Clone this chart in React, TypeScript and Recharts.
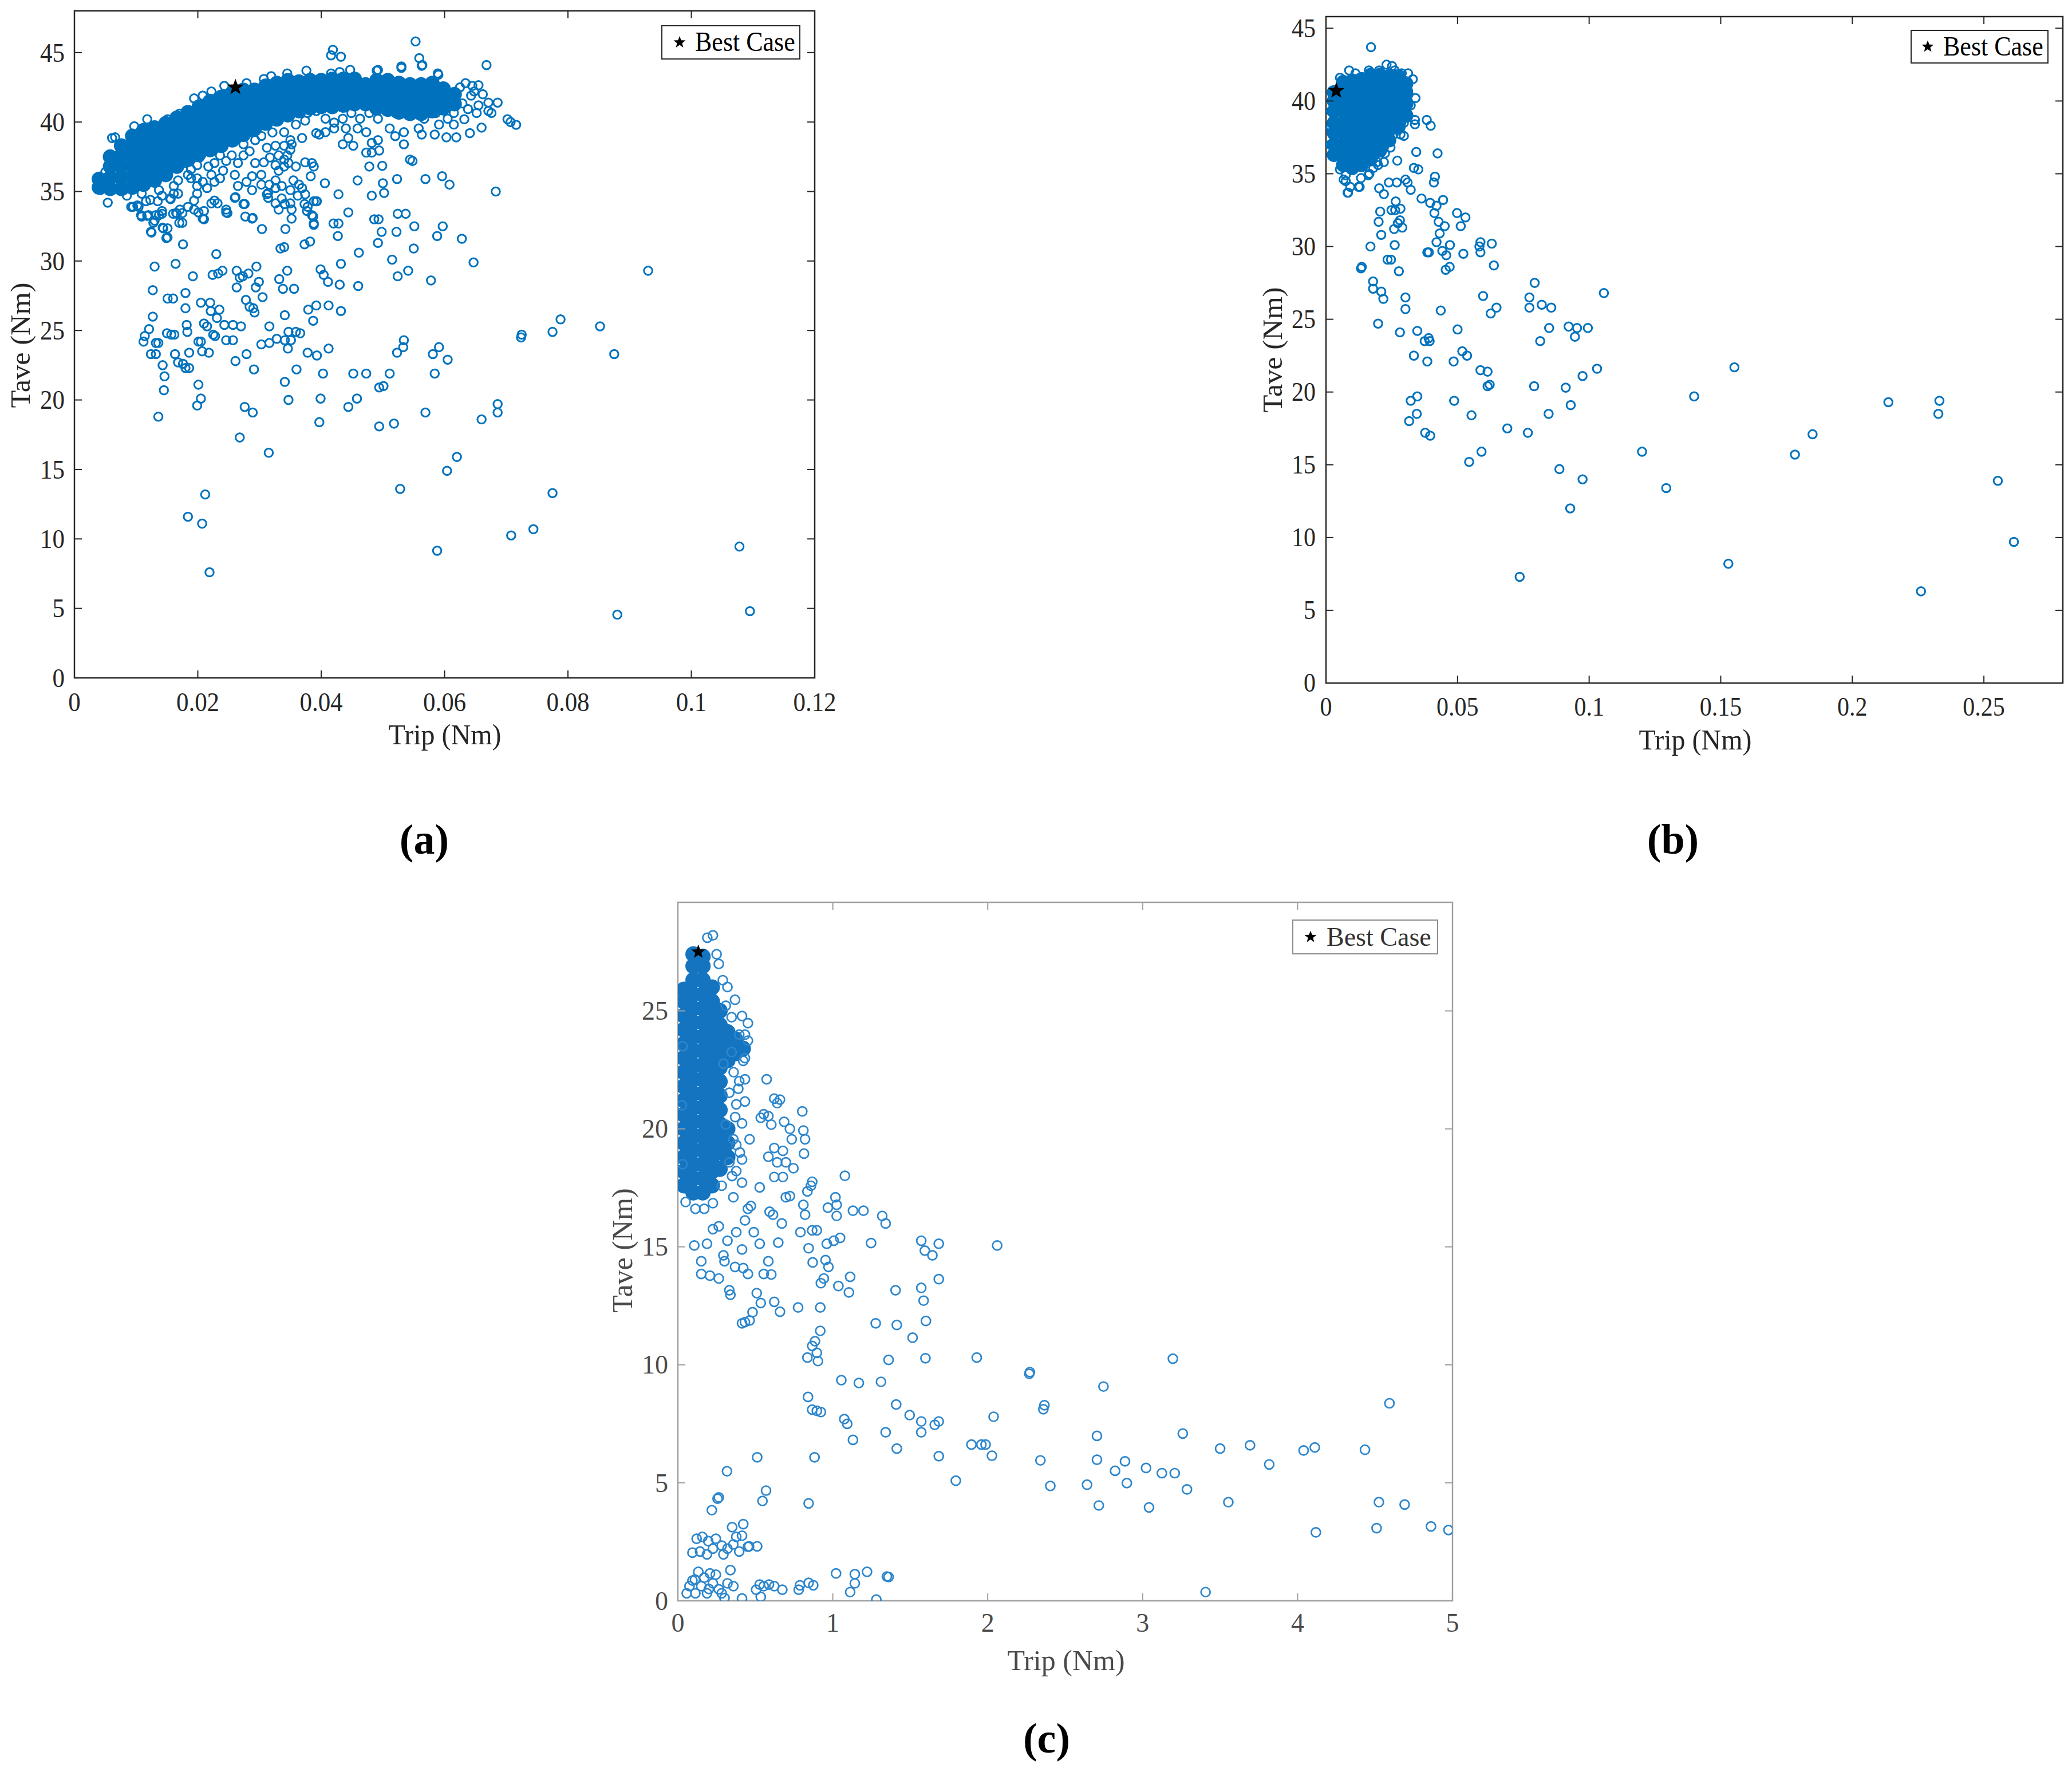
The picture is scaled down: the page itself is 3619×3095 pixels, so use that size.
import React from 'react';
import { ScatterChart, Scatter, XAxis, YAxis, ReferenceArea } from 'recharts';

type P = [number, number];

const FONT = '"Liberation Serif", "Times New Roman", serif';

// ---------- panel (a) ----------
const ticksAX = [0, 0.02, 0.04, 0.06, 0.08, 0.1, 0.12];
const ticksAY = [0, 5, 10, 15, 20, 25, 30, 35, 40, 45];
const bestA: P[] = [[0.0261, 42.5]];

const ringsA: P[] = [
  [0.093, 29.3], [0.0775, 13.3], [0.088, 4.55], [0.1095, 4.8], [0.1078, 9.45], [0.0744, 10.7], [0.0708, 10.25],
  [0.0588, 9.15], [0.0528, 13.6], [0.0604, 14.9], [0.062, 15.9], [0.0852, 25.3], [0.0875, 23.3], [0.0788, 25.8],
  [0.0775, 24.9], [0.0724, 24.5], [0.0725, 24.7], [0.0686, 19.7], [0.0686, 19.1], [0.066, 18.6], [0.0647, 29.9],
  [0.0628, 31.6], [0.0588, 31.8], [0.0597, 32.5], [0.0596, 36.1], [0.0608, 35.5], [0.0569, 35.9], [0.0683, 35.0],
  [0.0578, 28.6], [0.055, 30.9], [0.0551, 32.5], [0.0537, 33.4], [0.0524, 33.4], [0.0522, 32.1], [0.0515, 30.1],
  [0.0524, 28.9], [0.0541, 29.3], [0.0498, 32.1], [0.0493, 33.0], [0.0486, 33.0], [0.0492, 31.3], [0.05, 35.6],
  [0.0502, 34.9], [0.0523, 35.9], [0.0482, 34.7], [0.0459, 35.8], [0.0444, 33.5], [0.0461, 30.6], [0.046, 28.2],
  [0.0428, 32.7], [0.042, 32.7], [0.0427, 31.8], [0.0432, 29.8], [0.043, 28.3], [0.0432, 26.4], [0.0412, 26.8],
  [0.0411, 28.5], [0.0404, 29.0], [0.0399, 29.4], [0.0406, 35.6], [0.0428, 34.8], [0.0393, 34.3], [0.0388, 32.7],
  [0.0387, 33.2], [0.0373, 31.2], [0.0382, 31.4], [0.0373, 34.1], [0.0377, 33.6], [0.0392, 26.8], [0.0379, 26.5],
  [0.0387, 25.7], [0.0378, 23.4], [0.0393, 23.2], [0.0412, 23.7], [0.0403, 21.9], [0.0399, 20.1], [0.0397, 18.4],
  [0.0444, 19.5], [0.0458, 20.1], [0.0452, 21.9], [0.0473, 21.9], [0.0494, 20.9], [0.0501, 21.0], [0.0511, 21.9],
  [0.0494, 18.1], [0.0518, 18.3], [0.0523, 23.4], [0.0533, 23.8], [0.0534, 24.3], [0.0581, 23.3], [0.0591, 23.8],
  [0.0605, 22.9], [0.0584, 21.9], [0.0569, 19.1], [0.036, 22.2], [0.0366, 24.8], [0.0359, 24.9], [0.0351, 24.3],
  [0.0347, 24.9], [0.0346, 23.7], [0.0341, 24.3], [0.0347, 20.0], [0.0341, 21.3], [0.0341, 26.1], [0.0356, 28.0],
  [0.0338, 28.0], [0.0332, 28.7], [0.0345, 29.3], [0.034, 31.0], [0.0334, 30.9], [0.0342, 32.3], [0.0316, 25.3],
  [0.0328, 24.4], [0.0316, 24.1], [0.0303, 24.0], [0.0315, 16.2], [0.0291, 22.2], [0.0289, 19.1], [0.0276, 19.5],
  [0.0268, 17.3], [0.0279, 23.3], [0.0261, 22.8], [0.027, 25.3], [0.0257, 25.4], [0.0257, 24.3], [0.0246, 24.3],
  [0.0243, 25.4], [0.0235, 26.5], [0.0231, 25.9], [0.0228, 24.6], [0.0225, 24.7], [0.0218, 23.4], [0.022, 27.0],
  [0.0221, 26.4], [0.0215, 25.3], [0.021, 25.5], [0.0205, 27.0], [0.0205, 24.2], [0.0201, 24.2], [0.0207, 23.5],
  [0.0205, 20.1], [0.0201, 21.1], [0.0199, 19.6], [0.0186, 22.3], [0.018, 22.3], [0.0186, 23.4], [0.0183, 24.9],
  [0.0182, 25.4], [0.018, 26.6], [0.018, 27.7], [0.0192, 28.9], [0.016, 27.3], [0.0151, 27.3], [0.0164, 29.8],
  [0.013, 29.6], [0.0127, 27.9], [0.0127, 26.0], [0.0121, 25.1], [0.0114, 24.6], [0.0112, 24.2], [0.0132, 24.1],
  [0.0136, 24.1], [0.015, 24.8], [0.0157, 24.7], [0.0162, 24.7], [0.0124, 23.3], [0.0132, 23.3], [0.0163, 23.3],
  [0.0168, 22.7], [0.0176, 22.6], [0.0143, 22.5], [0.0146, 21.7], [0.0145, 20.7], [0.0136, 18.8], [0.0184, 11.6],
  [0.0212, 13.2], [0.0207, 11.1], [0.0219, 7.6], [0.023, 30.5], [0.0224, 29.0], [0.0233, 29.1], [0.024, 29.3],
  [0.0263, 29.3], [0.0268, 28.8], [0.0273, 28.9], [0.0282, 29.1], [0.0295, 29.6], [0.0294, 28.1], [0.0299, 28.5],
  [0.0305, 27.4], [0.0278, 27.2], [0.0284, 26.7], [0.029, 26.6], [0.0292, 26.3], [0.0263, 28.1], [0.0176, 31.2],
  [0.0151, 31.7], [0.0124, 32.1], [0.0143, 32.4], [0.013, 32.9], [0.0194, 33.7], [0.0201, 33.5], [0.021, 33.0],
  [0.0246, 33.5], [0.0277, 33.2], [0.0289, 33.1], [0.0304, 32.3], [0.0276, 34.1], [0.0261, 34.6], [0.0314, 34.9],
  [0.0316, 35.5], [0.0341, 34.1], [0.0054, 34.2], [0.0104, 33.9], [0.0092, 33.9], [0.0108, 33.3], [0.012, 33.3],
  [0.0137, 33.3], [0.0142, 33.4], [0.016, 33.4], [0.0171, 33.7], [0.0166, 33.4], [0.0155, 34.5], [0.0135, 34.3],
  [0.0419, 45.2], [0.0416, 44.8], [0.0432, 44.7], [0.0553, 45.8], [0.0559, 44.6], [0.0564, 44.1], [0.0668, 44.1],
  [0.049, 43.7], [0.053, 43.9], [0.059, 43.4],
  // band
  [0.0061, 38.85], [0.0066, 38.9], [0.0097, 39.7], [0.0118, 40.2], [0.0151, 40.2], [0.017, 40.6], [0.0194, 41.7],
  [0.0208, 41.9], [0.0222, 42.2], [0.0243, 42.6], [0.0279, 42.8], [0.0307, 43.1], [0.0319, 43.3], [0.0345, 43.5],
  [0.0376, 43.7], [0.0416, 43.5], [0.043, 43.6], [0.0447, 43.75], [0.0492, 43.75], [0.053, 44.0], [0.0563, 44.05],
  [0.0589, 43.5], [0.0634, 42.8], [0.0655, 42.65], [0.0645, 42.6], [0.0662, 42.0], [0.0686, 41.4], [0.0671, 41.4],
  [0.0671, 40.8], [0.0676, 40.65], [0.0702, 40.2], [0.0707, 40.0], [0.0716, 39.8], [0.066, 39.6], [0.0641, 39.2],
  [0.0619, 38.9], [0.0603, 38.9], [0.0584, 39.1], [0.0563, 39.1], [0.0548, 37.2], [0.0544, 37.3], [0.0534, 38.4],
  [0.0478, 36.8], [0.0499, 36.85], [0.0473, 37.8], [0.0482, 37.8], [0.0494, 37.95], [0.0492, 38.7], [0.0482, 38.5],
  [0.0435, 38.4], [0.0452, 38.3], [0.0444, 38.85], [0.0392, 39.2], [0.0397, 39.1], [0.0369, 38.85], [0.0352, 38.4],
  [0.035, 38.0], [0.0345, 37.6], [0.034, 37.3], [0.0347, 37.05], [0.0374, 37.1], [0.0385, 37.05], [0.0388, 36.8],
  [0.0383, 36.1], [0.0359, 36.8], [0.034, 36.8], [0.0331, 36.5], [0.0355, 35.8], [0.0364, 35.5], [0.0369, 35.25],
  [0.035, 35.1], [0.0374, 34.8], [0.0362, 34.7], [0.0392, 34.3], [0.0388, 34.3], [0.0336, 34.5], [0.0326, 34.15],
  [0.0331, 33.7], [0.035, 34.15], [0.0352, 33.7], [0.0352, 33.05], [0.0378, 33.9], [0.0385, 33.3], [0.0388, 32.6],
  [0.0312, 34.8], [0.0314, 34.55], [0.0326, 35.25], [0.0336, 35.4], [0.0326, 35.8], [0.0303, 35.5], [0.0288, 35.1],
  [0.0288, 33.05], [0.0274, 34.1], [0.026, 34.55], [0.0246, 33.7], [0.0248, 33.45], [0.0227, 34.35], [0.0222, 34.15],
  [0.0232, 34.15], [0.021, 33.6], [0.0208, 33.05], [0.0215, 35.25], [0.0199, 35.4], [0.0199, 34.85], [0.0194, 34.35],
  [0.0184, 33.9], [0.0175, 33.45], [0.0165, 33.45], [0.017, 32.75], [0.0175, 32.75], [0.0142, 33.6], [0.0132, 33.3],
  [0.0128, 32.75], [0.0144, 32.35], [0.0151, 32.35], [0.0125, 32.05], [0.0149, 31.65], [0.0109, 33.2], [0.0118, 33.25],
  [0.0095, 33.9], [0.0102, 34.0], [0.0116, 34.3], [0.0123, 34.4], [0.0085, 34.7], [0.008, 35.1], [0.0109, 34.85],
  [0.0137, 35.1], [0.0142, 34.7], [0.0156, 34.45], [0.0161, 34.85], [0.0168, 34.85], [0.0161, 35.4], [0.0168, 35.8],
  [0.0184, 36.2], [0.0189, 35.95], [0.0199, 35.95], [0.0208, 35.7], [0.0217, 36.8], [0.0222, 36.2], [0.0227, 35.7],
  [0.0236, 35.95], [0.0241, 36.5], [0.026, 36.2], [0.0265, 35.4], [0.0279, 35.7], [0.0288, 36.1], [0.0303, 36.2],
  [0.0293, 37.05], [0.0307, 37.1], [0.0317, 37.45], [0.0326, 36.9], [0.0312, 38.15], [0.0326, 38.3], [0.0331, 37.6],
  [0.034, 38.3], [0.035, 38.7], [0.0274, 37.6], [0.0284, 37.9], [0.0265, 37.05], [0.0274, 38.4], [0.0246, 37.2],
  [0.0255, 37.6], [0.0236, 37.6], [0.0227, 37.05], [0.0199, 36.9], [0.0189, 36.6], [0.018, 37.05], [0.0203, 37.45],
  [0.0217, 37.9], [0.0213, 38.3], [0.0236, 38.3], [0.0255, 38.55], [0.0284, 39.25], [0.0303, 39.0], [0.0293, 38.7],
  [0.0321, 39.25], [0.034, 39.27], [0.0359, 39.82], [0.0374, 40.1], [0.0378, 40.65], [0.0392, 40.79], [0.0407, 40.24],
  [0.0421, 39.96], [0.0435, 40.24], [0.0449, 40.65], [0.0463, 40.24], [0.0478, 40.65], [0.0492, 40.24], [0.0506, 40.79],
  [0.052, 40.65], [0.0539, 41.06], [0.0553, 40.65], [0.0567, 40.24], [0.0586, 40.65], [0.0605, 40.24], [0.0615, 40.65],
  [0.0629, 41.34], [0.0643, 41.9], [0.0638, 40.93], [0.0652, 40.65], [0.0615, 39.82], [0.0591, 39.82], [0.0558, 39.54],
  [0.0534, 39.27], [0.052, 38.99], [0.0511, 39.54], [0.0473, 39.27], [0.0459, 39.54], [0.044, 39.54], [0.0421, 39.54],
  [0.0407, 39.27], [0.0501, 41.48], [0.0473, 41.34], [0.0444, 41.34], [0.0416, 41.06], [0.0388, 41.2], [0.0364, 41.62],
  [0.0331, 40.93], [0.0307, 40.65], [0.0473, 42.03], [0.0501, 42.31], [0.0544, 42.03], [0.0572, 42.31], [0.0605, 42.17],
  [0.0582, 41.48], [0.0038, 35.6], [0.0042, 35.1], [0.005, 36.4], [0.0056, 37.6],
  [0.0625, 42.5], [0.0612, 41.6], [0.0655, 41.2], [0.0648, 42.2], [0.0632, 40.2], [0.0598, 40.9],
];

// densest part of the band, where the circles merge into a solid mass
const denseA: P[] = [
  [0.004, 35.3], [0.004, 35.9],
  [0.0058, 35.2], [0.0058, 36.0], [0.0058, 36.8], [0.0058, 37.5],
  [0.0076, 35.2], [0.0076, 36.0], [0.0076, 36.8], [0.0076, 37.6], [0.0076, 38.3],
  [0.0094, 35.3], [0.0094, 36.1], [0.0094, 36.9], [0.0094, 37.7], [0.0094, 38.5], [0.0094, 39.0],
  [0.0112, 35.5], [0.0112, 36.3], [0.0112, 37.1], [0.0112, 37.9], [0.0112, 38.7], [0.0112, 39.4],
  [0.013, 35.8], [0.013, 36.5], [0.013, 37.3], [0.013, 38.1], [0.013, 38.9], [0.013, 39.6],
  [0.0148, 36.2], [0.0148, 36.9], [0.0148, 37.6], [0.0148, 38.4], [0.0148, 39.2], [0.0148, 39.9],
  [0.0166, 36.8], [0.0166, 37.5], [0.0166, 38.2], [0.0166, 38.9], [0.0166, 39.6], [0.0166, 40.3],
  [0.0184, 37.3], [0.0184, 38.0], [0.0184, 38.7], [0.0184, 39.4], [0.0184, 40.1], [0.0184, 40.7],
  [0.0202, 37.7], [0.0202, 38.4], [0.0202, 39.1], [0.0202, 39.8], [0.0202, 40.5], [0.0202, 41.1],
  [0.022, 38.0], [0.022, 38.7], [0.022, 39.4], [0.022, 40.1], [0.022, 40.8], [0.022, 41.5],
  [0.0238, 38.3], [0.0238, 39.0], [0.0238, 39.7], [0.0238, 40.4], [0.0238, 41.1], [0.0238, 41.8],
  [0.0256, 38.7], [0.0256, 39.4], [0.0256, 40.1], [0.0256, 40.8], [0.0256, 41.5], [0.0256, 42.1],
  [0.0274, 39.1], [0.0274, 39.8], [0.0274, 40.5], [0.0274, 41.2], [0.0274, 41.9], [0.0274, 42.3],
  [0.0292, 39.5], [0.0292, 40.2], [0.0292, 40.9], [0.0292, 41.6], [0.0292, 42.3],
  [0.031, 39.9], [0.031, 40.6], [0.031, 41.3], [0.031, 42.0], [0.031, 42.6],
  [0.0328, 40.2], [0.0328, 40.9], [0.0328, 41.6], [0.0328, 42.3], [0.0328, 42.8],
  [0.0346, 40.5], [0.0346, 41.2], [0.0346, 41.9], [0.0346, 42.6], [0.0346, 43.0],
  [0.0364, 40.8], [0.0364, 41.5], [0.0364, 42.2], [0.0364, 42.9],
  [0.0382, 41.0], [0.0382, 41.7], [0.0382, 42.4], [0.0382, 43.0],
  [0.04, 41.1], [0.04, 41.8], [0.04, 42.5], [0.04, 43.0],
  [0.0418, 41.1], [0.0418, 41.8], [0.0418, 42.5], [0.0418, 43.1],
  [0.0436, 41.2], [0.0436, 41.9], [0.0436, 42.6], [0.0436, 43.1],
  [0.0454, 41.3], [0.0454, 42.0], [0.0454, 42.7], [0.0454, 43.1],
  [0.0472, 41.3], [0.0472, 42.0], [0.0472, 42.7],
  [0.049, 41.0], [0.049, 41.7], [0.049, 42.4], [0.049, 43.0],
  [0.0508, 40.9], [0.0508, 41.6], [0.0508, 42.3], [0.0508, 43.0],
  [0.0526, 40.7], [0.0526, 41.4], [0.0526, 42.1], [0.0526, 42.8],
  [0.0544, 40.6], [0.0544, 41.3], [0.0544, 42.0], [0.0544, 42.7],
  [0.0562, 40.6], [0.0562, 41.3], [0.0562, 42.0], [0.0562, 42.7],
  [0.058, 40.8], [0.058, 41.5], [0.058, 42.2], [0.058, 42.8],
  [0.0598, 41.0], [0.0598, 41.7], [0.0598, 42.4],
  [0.0616, 41.3], [0.0616, 42.0],
];

// ---------- panel (b) ----------
const ticksBX = [0, 0.05, 0.1, 0.15, 0.2, 0.25];
const ticksBY = [0, 5, 10, 15, 20, 25, 30, 35, 40, 45];
const bestB: P[] = [[0.0039, 40.7]];

const ringsB: P[] = [
  [0.0171, 43.7], [0.1552, 21.7], [0.1399, 19.7], [0.1201, 15.9], [0.1293, 13.4], [0.1529, 8.2], [0.1782, 15.7],
  [0.1849, 17.1], [0.2137, 19.3], [0.2331, 19.4], [0.2327, 18.5], [0.2553, 13.9], [0.2614, 9.7], [0.2261, 6.3],
  [0.0736, 7.3], [0.1056, 26.8], [0.103, 21.6], [0.0975, 21.1], [0.0975, 14.0], [0.0928, 12.0], [0.0887, 14.7],
  [0.093, 19.1], [0.0911, 20.3], [0.0922, 24.5], [0.0954, 24.4], [0.0946, 23.8], [0.0995, 24.4], [0.0848, 24.4],
  [0.0814, 23.5], [0.082, 26.0], [0.0856, 25.8], [0.0773, 25.8], [0.0773, 26.5], [0.0793, 27.5], [0.0791, 20.4],
  [0.0846, 18.5], [0.0767, 17.2], [0.0689, 17.5], [0.0591, 15.9], [0.0544, 15.2], [0.0553, 18.4], [0.0622, 20.5],
  [0.0614, 20.4], [0.0614, 21.4], [0.0587, 21.5], [0.0536, 22.5], [0.0518, 22.8], [0.05, 24.3], [0.0485, 22.1],
  [0.0487, 19.4], [0.0436, 25.6], [0.0394, 23.5], [0.0375, 23.5], [0.039, 23.7], [0.0385, 22.1], [0.0334, 22.5],
  [0.0347, 24.2], [0.0281, 24.1], [0.0347, 19.7], [0.0322, 19.4], [0.0345, 18.5], [0.0316, 18.0], [0.0377, 17.2],
  [0.0396, 17.0], [0.0198, 24.7], [0.0218, 26.4], [0.021, 26.9], [0.0179, 27.1], [0.0179, 27.6], [0.0277, 28.3],
  [0.0302, 25.7], [0.0302, 26.5], [0.0133, 28.5], [0.0136, 28.6], [0.0169, 30.0], [0.0234, 29.1], [0.0247, 29.1],
  [0.0261, 30.1], [0.021, 30.8], [0.0259, 31.2], [0.029, 31.3], [0.0273, 31.6], [0.0281, 31.8], [0.02, 31.7],
  [0.0206, 32.4], [0.0249, 32.5], [0.0263, 32.5], [0.0283, 32.6], [0.0265, 33.1], [0.0202, 34.0], [0.022, 33.6],
  [0.0239, 34.4], [0.0269, 34.4], [0.031, 34.4], [0.0302, 34.6], [0.0322, 33.9], [0.0334, 35.4], [0.0351, 35.3],
  [0.0343, 36.5], [0.0363, 33.3], [0.0396, 33.0], [0.042, 32.8], [0.0412, 32.3], [0.0428, 31.7], [0.0451, 31.4],
  [0.0432, 30.9], [0.042, 30.3], [0.0445, 33.2], [0.0471, 30.1], [0.0442, 29.7], [0.0457, 29.4], [0.0455, 28.4],
  [0.047, 28.6], [0.0391, 29.6], [0.0385, 29.6], [0.0498, 32.3], [0.053, 32.0], [0.0512, 31.4], [0.0522, 29.5],
  [0.0587, 30.3], [0.0583, 30.0], [0.0587, 29.6], [0.063, 30.2], [0.0638, 28.7], [0.0597, 26.6], [0.0648, 25.8],
  [0.0626, 25.4], [0.041, 34.4], [0.0414, 34.8], [0.0424, 36.4], [0.0398, 38.3], [0.0383, 38.7], [0.0338, 38.4],
  [0.0338, 38.7], [0.034, 40.2], [0.0271, 35.9], [0.0245, 36.8], [0.0224, 36.4], [0.022, 35.8], [0.0198, 35.6],
  [0.018, 35.4], [0.0161, 34.9], [0.0133, 34.7], [0.0124, 34.1], [0.0082, 33.7], [0.0092, 34.1], [0.0075, 34.5],
  [0.0075, 34.9], [0.0296, 37.6], [0.0283, 37.7], [0.0296, 38.5], [0.0288, 38.7],
  // blob edge
  [0.0053, 41.6], [0.0088, 42.1], [0.0112, 41.9], [0.0163, 42.1], [0.0202, 42.1], [0.023, 42.5], [0.0251, 42.4],
  [0.0261, 42.1], [0.0288, 41.9], [0.0312, 41.9], [0.033, 41.5], [0.0312, 40.7], [0.0322, 39.7], [0.0306, 38.9],
  [0.0053, 35.3], [0.0067, 34.6], [0.0084, 33.7], [0.0128, 34.1], [0.0165, 35.0], [0.0194, 35.8], [0.022, 36.8],
  [0.0257, 37.7], [0.0286, 38.5], [0.0018, 38.2], [0.0016, 37.0], [0.0019, 39.3], [0.0022, 36.3], [0.0025, 40.4],
];

const denseB: P[] = [
  [0.003, 36.3], [0.003, 37.0], [0.003, 37.8], [0.003, 38.5], [0.003, 39.3], [0.003, 40.0], [0.003, 40.6],
  [0.0065, 35.6], [0.0065, 36.3], [0.0065, 37.0], [0.0065, 37.8], [0.0065, 38.5], [0.0065, 39.3], [0.0065, 40.0],
  [0.0065, 40.8], [0.0065, 41.3],
  [0.01, 35.4], [0.01, 36.1], [0.01, 36.9], [0.01, 37.6], [0.01, 38.4], [0.01, 39.1], [0.01, 39.9], [0.01, 40.6],
  [0.01, 41.4],
  [0.0135, 35.6], [0.0135, 36.3], [0.0135, 37.1], [0.0135, 37.8], [0.0135, 38.6], [0.0135, 39.3], [0.0135, 40.1],
  [0.0135, 40.8], [0.0135, 41.5],
  [0.017, 36.0], [0.017, 36.8], [0.017, 37.5], [0.017, 38.3], [0.017, 39.0], [0.017, 39.8], [0.017, 40.5],
  [0.017, 41.3], [0.017, 41.8],
  [0.0205, 36.6], [0.0205, 37.3], [0.0205, 38.1], [0.0205, 38.8], [0.0205, 39.6], [0.0205, 40.3], [0.0205, 41.1],
  [0.0205, 41.8],
  [0.024, 37.3], [0.024, 38.0], [0.024, 38.8], [0.024, 39.5], [0.024, 40.3], [0.024, 41.0], [0.024, 41.7],
  [0.0275, 38.2], [0.0275, 39.0], [0.0275, 39.7], [0.0275, 40.5], [0.0275, 41.2], [0.0275, 41.7],
  [0.0305, 39.0], [0.0305, 39.8], [0.0305, 40.5], [0.0305, 41.2],
];

// ---------- panel (c) ----------
const ticksCX = [0, 1, 2, 3, 4, 5];
const ticksCY = [0, 5, 10, 15, 20, 25];
const bestC: P[] = [[0.132, 27.5]];

const ringsC: P[] = [
  [4.974, 3.0], [4.861, 3.15], [4.691, 4.08], [4.525, 4.18], [4.51, 3.08], [4.593, 8.37], [4.435, 6.4], [4.111, 6.5],
  [4.039, 6.37], [4.118, 2.9], [3.817, 5.78], [3.693, 6.59], [3.5, 6.45], [3.553, 4.18], [3.406, 0.37], [3.259, 7.09],
  [3.286, 4.72], [3.207, 5.41], [3.124, 5.41], [3.195, 10.26], [3.022, 5.63], [3.041, 3.96], [2.898, 4.99],
  [2.886, 5.91], [2.822, 5.51], [2.705, 5.98], [2.705, 6.99], [2.717, 4.04], [2.747, 9.08], [2.641, 4.92],
  [2.404, 4.87], [2.34, 5.95], [2.359, 8.12], [2.366, 8.29], [2.268, 9.62], [2.272, 9.69], [2.038, 7.8], [2.027, 6.15],
  [1.986, 6.62], [1.959, 6.62], [1.895, 6.62], [1.929, 10.31], [2.061, 15.06], [1.794, 5.09], [1.684, 6.13],
  [1.684, 7.6], [1.658, 7.46], [1.571, 7.6], [1.571, 7.14], [1.496, 7.87], [1.413, 6.45], [1.341, 7.14], [1.409, 8.32],
  [1.36, 10.21], [1.311, 9.28], [1.277, 11.76], [1.413, 11.69], [1.515, 11.15], [1.598, 10.28], [1.601, 11.86],
  [1.586, 12.72], [1.571, 13.26], [1.405, 13.16], [1.684, 13.63], [1.684, 15.13], [1.643, 14.64], [1.594, 14.84],
  [1.571, 15.26], [1.341, 15.99], [1.319, 16.31], [1.247, 15.16], [1.198, 16.53], [1.13, 16.53], [1.078, 18.01],
  [1.112, 13.73], [1.104, 13.07], [1.036, 13.34], [1.055, 9.35], [1.168, 9.23], [1.074, 7.7], [1.093, 7.5],
  [1.13, 6.82], [0.882, 6.08], [0.923, 8.0], [0.897, 8.05], [0.867, 8.1], [0.84, 8.64], [0.867, 10.8], [0.897, 10.51],
  [0.885, 11.0], [0.919, 11.44], [0.904, 10.16], [0.844, 4.13], [0.836, 10.31], [1.021, 1.16], [1.142, 1.13],
  [1.221, 1.23], [1.142, 0.74], [1.112, 0.37], [1.281, 0.05], [1.36, 1.01], [1.349, 1.03], [0.874, 0.66],
  [0.844, 0.76], [0.788, 0.66], [0.78, 0.47], [0.674, 0.47], [0.622, 0.62], [0.588, 0.69], [0.554, 0.62],
  [0.528, 0.69], [0.505, 0.47], [0.535, 0.17], [0.414, 0.1], [0.512, 6.08], [0.546, 4.23], [0.569, 4.67],
  [0.317, 5.49], [0.256, 4.33], [0.264, 4.38], [0.219, 3.84], [0.35, 3.12], [0.422, 3.25], [0.414, 2.76],
  [0.512, 2.31], [0.46, 2.31],
  // low clusters
  [0.094, 2.04], [0.121, 2.63], [0.158, 2.71], [0.196, 2.53], [0.245, 2.63], [0.283, 2.34], [0.32, 2.21],
  [0.358, 2.39], [0.396, 2.09], [0.452, 2.29], [0.143, 2.09], [0.226, 2.21], [0.294, 1.97], [0.188, 1.97],
  [0.377, 2.71], [0.057, 0.32], [0.094, 0.86], [0.113, 0.32], [0.151, 0.62], [0.17, 0.98], [0.207, 1.16],
  [0.226, 0.74], [0.245, 1.11], [0.283, 0.32], [0.32, 0.74], [0.339, 1.3], [0.358, 0.62], [0.132, 1.23],
  [0.075, 0.62], [0.188, 0.32], [0.264, 0.49], [0.301, 0.12], [0.11, 0.9], [0.2, 0.5],
  // around the main mass
  [0.573, 22.1], [0.622, 21.28], [0.641, 21.09], [0.659, 21.24], [0.584, 20.54], [0.554, 20.62], [0.535, 20.47],
  [0.603, 20.18], [0.686, 20.3], [0.723, 20.0], [0.803, 20.74], [0.81, 19.93], [0.821, 19.56], [0.814, 18.95],
  [0.735, 19.56], [0.678, 19.07], [0.622, 19.19], [0.584, 18.82], [0.641, 18.58], [0.697, 18.58], [0.746, 18.33],
  [0.723, 17.15], [0.697, 17.1], [0.622, 17.96], [0.678, 17.96], [0.867, 17.76], [0.859, 17.59], [0.836, 17.35],
  [0.81, 16.78], [0.821, 16.36], [0.867, 15.7], [0.897, 15.7], [0.791, 15.62], [0.844, 14.94], [0.87, 14.34],
  [0.953, 14.44], [0.972, 14.15], [0.942, 13.66], [0.923, 13.46], [0.968, 16.66], [1.017, 17.1], [1.025, 16.78],
  [1.025, 16.31], [1.006, 15.26], [0.961, 15.13], [1.047, 15.38], [0.919, 12.43], [0.776, 12.43], [0.659, 12.25],
  [0.622, 12.67], [0.535, 12.62], [0.433, 11.81], [0.414, 11.76], [0.463, 11.88], [0.482, 12.23], [0.422, 14.1],
  [0.452, 13.85], [0.369, 14.15], [0.332, 13.16], [0.339, 12.97], [0.554, 13.85], [0.603, 13.83], [0.584, 14.39],
  [0.509, 13.04], [0.648, 15.18], [0.671, 15.99], [0.592, 16.49], [0.614, 16.36], [0.528, 17.52], [0.471, 16.73],
  [0.433, 16.12], [0.377, 15.62], [0.32, 15.26], [0.226, 15.75], [0.188, 15.13], [0.151, 14.39], [0.151, 13.85],
  [0.106, 15.06], [0.207, 13.78], [0.301, 14.39], [0.264, 13.66], [0.294, 14.64], [0.414, 18.7], [0.377, 18.21],
  [0.414, 17.72], [0.463, 19.56], [0.377, 19.32], [0.414, 20.23], [0.433, 21.16], [0.433, 22.1], [0.422, 22.88],
  [0.433, 23.99], [0.452, 24.48], [0.414, 24.78], [0.369, 25.47], [0.32, 26.01], [0.264, 26.99], [0.226, 28.2],
  [0.19, 28.1], [0.309, 25.22], [0.347, 24.73], [0.396, 23.99], [0.452, 23.74], [0.433, 23.0], [0.347, 23.25],
  [0.294, 22.76], [0.396, 22.02], [0.332, 21.53], [0.377, 21.04], [0.309, 20.18], [0.358, 19.56], [0.332, 18.58],
  [0.283, 17.59], [0.226, 16.85], [0.17, 16.61], [0.113, 16.61], [0.358, 17.1], [0.452, 16.61], [0.49, 15.62],
  [0.528, 15.13], [0.414, 14.89], [0.264, 15.87], [0.05, 16.9], [0.03, 18.5], [0.025, 21.0], [0.03, 23.5],
  [0.37, 20.5], [0.36, 22.4], [0.4, 19.0], [0.39, 21.7], [0.35, 18.0], [0.29, 26.3], [0.25, 27.4],
];

const denseC: P[] = [
  [0.04, 17.6], [0.04, 18.2], [0.04, 18.8], [0.04, 19.4], [0.04, 20.0], [0.04, 20.6], [0.04, 21.2], [0.04, 21.8],
  [0.04, 22.4], [0.04, 23.0], [0.04, 23.6], [0.04, 24.2], [0.04, 24.8], [0.04, 25.4], [0.04, 25.9],
  [0.1, 17.3], [0.1, 17.9], [0.1, 18.5], [0.1, 19.1], [0.1, 19.7], [0.1, 20.3], [0.1, 20.9], [0.1, 21.5],
  [0.1, 22.1], [0.1, 22.7], [0.1, 23.3], [0.1, 23.9], [0.1, 24.5], [0.1, 25.1], [0.1, 25.7], [0.1, 26.3],
  [0.1, 26.9], [0.1, 27.4],
  [0.16, 17.3], [0.16, 17.9], [0.16, 18.5], [0.16, 19.1], [0.16, 19.7], [0.16, 20.3], [0.16, 20.9], [0.16, 21.5],
  [0.16, 22.1], [0.16, 22.7], [0.16, 23.3], [0.16, 23.9], [0.16, 24.5], [0.16, 25.1], [0.16, 25.7], [0.16, 26.3],
  [0.16, 26.9], [0.16, 27.3],
  [0.22, 17.6], [0.22, 18.2], [0.22, 18.8], [0.22, 19.4], [0.22, 20.0], [0.22, 20.6], [0.22, 21.2], [0.22, 21.8],
  [0.22, 22.4], [0.22, 23.0], [0.22, 23.6], [0.22, 24.2], [0.22, 24.8], [0.22, 25.4], [0.22, 26.0],
  [0.27, 18.3], [0.27, 19.0], [0.27, 19.6], [0.27, 20.2], [0.27, 20.8], [0.27, 21.4], [0.27, 22.0], [0.27, 22.6],
  [0.27, 23.2], [0.27, 23.8], [0.27, 24.4], [0.27, 25.0],
  [0.32, 18.8], [0.32, 19.4], [0.32, 20.0], [0.32, 22.9], [0.32, 23.5], [0.32, 24.1],
  [0.37, 23.2], [0.37, 23.8],
  [0.42, 23.4],
];

const toXY = (arr: P[]) => arr.map(([x, y]) => ({ x, y }));

const starPath = (cx: number, cy: number, R: number) => {
  const r = R * 0.42;
  let d = '';
  for (let i = 0; i < 10; i++) {
    const rad = i % 2 === 0 ? R : r;
    const a = -Math.PI / 2 + (i * Math.PI) / 5;
    d += `${i === 0 ? 'M' : 'L'}${cx + rad * Math.cos(a)},${cy + rad * Math.sin(a)}`;
  }
  return d + 'Z';
};

interface PanelSpec {
  plotLeft: number;
  plotTop: number;
  plotW: number;
  plotH: number;
  xDomain: [number, number];
  yDomain: [number, number];
  xTicks: number[];
  yTicks: number[];
  rings: P[];
  dense: P[];
  best: P[];
  ringColor: string;
  denseColor: string;
  ringR: number;
  ringW: number;
  denseR: number;
  axisColor: string;
  textColor: string;
  tickFont: number;
  stretch: number;
  xTickOffset: number;
  yTickGap: number;
  starR: number;
}

const YW = 120;
const XH = 100;
const MT = 20;
const MR = 60;
const TL = 13;

function Panel({ s }: { s: PanelSpec }) {
  const XTick = (props: any) => {
    const { x, y, payload } = props;
    return (
      <g>
        <line x1={x} x2={x} y1={y} y2={y - TL} stroke={s.axisColor} strokeWidth={2} />
        <line x1={x} x2={x} y1={y - s.plotH} y2={y - s.plotH + TL} stroke={s.axisColor} strokeWidth={2} />
        <text
          transform={`translate(${x},${y + s.xTickOffset}) scale(1,${s.stretch})`}
          textAnchor="middle"
          fontFamily={FONT}
          fontSize={s.tickFont}
          fill={s.textColor}
        >
          {String(payload.value)}
        </text>
      </g>
    );
  };
  const YTick = (props: any) => {
    const { x, y, payload } = props;
    return (
      <g>
        <line x1={x} x2={x + TL} y1={y} y2={y} stroke={s.axisColor} strokeWidth={2} />
        <line x1={x + s.plotW} x2={x + s.plotW - TL} y1={y} y2={y} stroke={s.axisColor} strokeWidth={2} />
        <text
          transform={`translate(${x - s.yTickGap},${y + s.tickFont * 0.34 * s.stretch}) scale(1,${s.stretch})`}
          textAnchor="end"
          fontFamily={FONT}
          fontSize={s.tickFont}
          fill={s.textColor}
        >
          {String(payload.value)}
        </text>
      </g>
    );
  };
  const ring = (p: any) => (
    <circle cx={p.cx} cy={p.cy} r={s.ringR} fill="none" stroke={s.ringColor} strokeWidth={s.ringW} />
  );
  const dot = (p: any) => <circle cx={p.cx} cy={p.cy} r={s.denseR} fill={s.denseColor} />;
  const star = (p: any) => <path d={starPath(p.cx, p.cy, s.starR)} fill="#000" />;

  return (
    <div style={{ position: 'absolute', left: s.plotLeft - YW, top: s.plotTop - MT }}>
      <ScatterChart
        width={s.plotW + YW + MR}
        height={s.plotH + MT + XH}
        margin={{ top: MT, right: MR, bottom: 0, left: 0 }}
        style={{ overflow: 'visible' }}
      >
        <XAxis
          type="number"
          dataKey="x"
          domain={s.xDomain}
          ticks={s.xTicks}
          allowDataOverflow
          interval={0}
          tickSize={0}
          tickMargin={0}
          tickLine={false}
          axisLine={false}
          height={XH}
          tick={XTick}
        />
        <YAxis
          type="number"
          dataKey="y"
          domain={s.yDomain}
          ticks={s.yTicks}
          allowDataOverflow
          interval={0}
          tickSize={0}
          tickMargin={0}
          tickLine={false}
          axisLine={false}
          width={YW}
          tick={YTick}
        />
        <ReferenceArea
          x1={s.xDomain[0]}
          x2={s.xDomain[1]}
          y1={s.yDomain[0]}
          y2={s.yDomain[1]}
          fill="none"
          stroke={s.axisColor}
          strokeWidth={2.5}
        />
        <Scatter data={toXY(s.dense)} shape={dot} isAnimationActive={false} />
        <Scatter data={toXY(s.rings)} shape={ring} isAnimationActive={false} />
        <Scatter data={toXY(s.best)} shape={star} isAnimationActive={false} />
      </ScatterChart>
    </div>
  );
}

const Legend = ({ left, top, width, height, font, color, border, starX, textX, stretch }: any) => (
  <div
    style={{
      position: 'absolute',
      left,
      top,
      width,
      height,
      boxSizing: 'border-box',
      border: `2px solid ${border}`,
      background: '#fff',
    }}
  >
    <svg style={{ position: 'absolute', left: 0, top: 0 }} width={width} height={height}>
      <path d={starPath(starX, height / 2 - 2, 11)} fill="#000" />
    </svg>
    <div
      style={{
        position: 'absolute',
        left: textX,
        top: height / 2 - 2,
        transform: `translateY(-50%) scale(1,${stretch})`,
        fontFamily: FONT,
        fontSize: font,
        lineHeight: 1,
        color,
        whiteSpace: 'nowrap',
      }}
    >
      Best Case
    </div>
  </div>
);

const Label = ({ x, y, text, font, color, rotate, stretch, bold }: any) => (
  <div
    style={{
      position: 'absolute',
      left: x,
      top: y,
      transform: rotate
        ? `translate(-50%,-50%) rotate(-90deg) scale(${stretch},1)`
        : `translate(-50%,-50%) scale(1,${stretch})`,
      fontFamily: FONT,
      fontSize: font,
      fontWeight: bold ? 'bold' : 'normal',
      lineHeight: 1,
      color,
      whiteSpace: 'nowrap',
    }}
  >
    {text}
  </div>
);

const MATLAB_BLUE = '#0072BD';

const specA: PanelSpec = {
  plotLeft: 130, plotTop: 19, plotW: 1293, plotH: 1165,
  xDomain: [0, 0.12], yDomain: [0, 48], xTicks: ticksAX, yTicks: ticksAY,
  rings: ringsA, dense: denseA, best: bestA,
  ringColor: MATLAB_BLUE, denseColor: MATLAB_BLUE, ringR: 7.3, ringW: 3.0, denseR: 13,
  axisColor: '#262626', textColor: '#262626', tickFont: 43, stretch: 1.08,
  xTickOffset: 58, yTickGap: 17, starR: 15,
};

const specB: PanelSpec = {
  plotLeft: 2316, plotTop: 29, plotW: 1287, plotH: 1164,
  xDomain: [0, 0.28], yDomain: [0, 45.8], xTicks: ticksBX, yTicks: ticksBY,
  rings: ringsB, dense: denseB, best: bestB,
  ringColor: MATLAB_BLUE, denseColor: MATLAB_BLUE, ringR: 7.3, ringW: 3.0, denseR: 12.5,
  axisColor: '#262626', textColor: '#262626', tickFont: 42, stretch: 1.08,
  xTickOffset: 57, yTickGap: 18, starR: 15,
};

const specC: PanelSpec = {
  plotLeft: 1184, plotTop: 1576, plotW: 1353, plotH: 1220,
  xDomain: [0, 5], yDomain: [0, 29.6], xTicks: ticksCX, yTicks: ticksCY,
  rings: ringsC, dense: denseC, best: bestC,
  ringColor: '#2d86cc', denseColor: '#1474c0', ringR: 8, ringW: 2.7, denseR: 14,
  axisColor: '#a0a0a0', textColor: '#4a4a4a', tickFont: 46, stretch: 1.0,
  xTickOffset: 54, yTickGap: 17, starR: 13,
};

export default function App() {
  return (
    <div
      style={{
        position: 'absolute',
        left: 0,
        top: 0,
        width: 3619,
        height: 3095,
        overflow: 'hidden',
        background: '#fff',
      }}
    >
      <Panel s={specA} />
      <Panel s={specB} />
      <Panel s={specC} />

      <Legend left={1155} top={44} width={243} height={60} font={44} color="#000" border="#262626" starX={30} textX={57} stretch={1.08} />
      <Legend left={3337} top={52} width={241} height={59} font={44} color="#000" border="#262626" starX={28} textX={55} stretch={1.08} />
      <Legend left={2257} top={1606} width={255} height={61} font={46} color="#333" border="#8c8c8c" starX={30} textX={58} stretch={1.0} />

      <Label x={777} y={1283} text="Trip (Nm)" font={48} color="#262626" stretch={1.05} />
      <Label x={36} y={603} text="Tave (Nm)" font={48} color="#262626" rotate stretch={1.05} />
      <Label x={2961} y={1292} text="Trip (Nm)" font={48} color="#262626" stretch={1.05} />
      <Label x={2223} y={611} text="Tave (Nm)" font={48} color="#262626" rotate stretch={1.05} />
      <Label x={1862} y={2900} text="Trip (Nm)" font={50} color="#4a4a4a" stretch={1.0} />
      <Label x={1087} y={2184} text="Tave (Nm)" font={50} color="#4a4a4a" rotate stretch={1.0} />

      <Label x={741} y={1466} text="(a)" font={74} color="#000" stretch={1.0} bold />
      <Label x={2922} y={1466} text="(b)" font={74} color="#000" stretch={1.0} bold />
      <Label x={1828} y={3036} text="(c)" font={74} color="#000" stretch={1.0} bold />
    </div>
  );
}
